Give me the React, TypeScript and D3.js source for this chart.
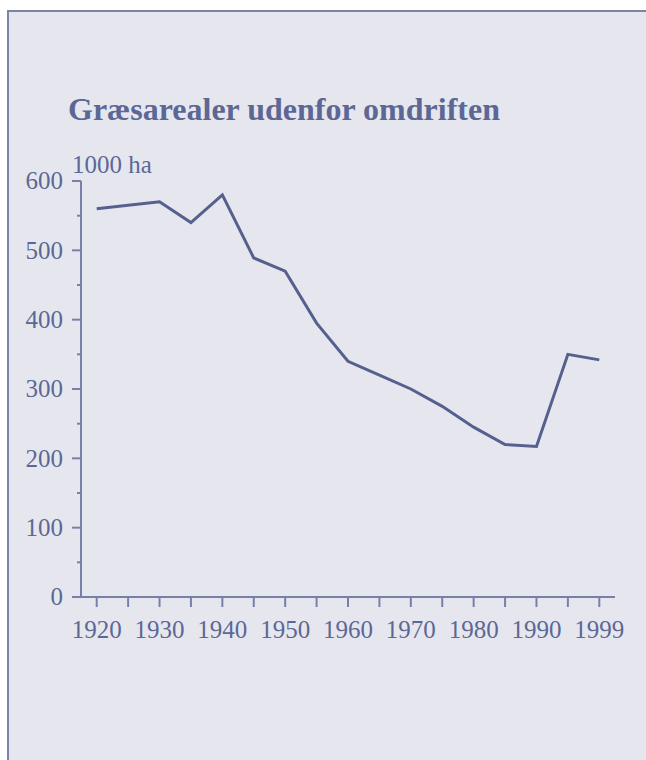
import * as d3 from "d3";
import React, { useEffect, useRef } from "react";

const years = [
  "1920", "1925", "1930", "1935", "1940", "1945", "1950", "1955", "1960",
  "1965", "1970", "1975", "1980", "1985", "1990", "1995", "1999",
];
const area = [
  560, 565, 570, 540, 580, 489, 470, 395, 340, 320, 300, 275, 245, 220, 217,
  350, 342,
];
const labelledYears = ["1920", "1930", "1940", "1950", "1960", "1970", "1980", "1990", "1999"];
const yTicks = [0, 100, 200, 300, 400, 500, 600];
const yMinorTicks = [50, 150, 250, 350, 450, 550];

const title = "Græsarealer udenfor omdriften";
const unit = "1000 ha";

const ink = "#5d6795";
const axisInk = "#7880a8";

const App: React.FC = () => {
  const ref = useRef<SVGSVGElement>(null);

  useEffect(() => {
    if (!ref.current) return;
    const svg = d3.select(ref.current);
    svg.selectAll("*").remove();

    // panel
    svg
      .append("rect")
      .attr("x", 8)
      .attr("y", 11)
      .attr("width", 700)
      .attr("height", 800)
      .attr("fill", "#e6e7ee")
      .attr("stroke", "#7b83a9")
      .attr("stroke-width", 2);

    const x = d3.scalePoint<string>().domain(years).range([81, 615]).padding(0.5);
    const y = d3.scaleLinear().domain([0, 600]).range([597, 181]);

    svg
      .append("text")
      .attr("x", 68)
      .attr("y", 120)
      .attr("fill", ink)
      .style("font-family", "'Liberation Serif', serif")
      .style("font-weight", "bold")
      .style("font-size", "32px")
      .text(title);

    svg
      .append("text")
      .attr("x", 72)
      .attr("y", 173)
      .attr("fill", ink)
      .style("font-family", "'Liberation Serif', serif")
      .style("font-size", "25px")
      .text(unit);

    const g = svg.append("g").attr("stroke", axisInk).attr("stroke-width", 2);

    // y axis line
    g.append("line").attr("x1", 81).attr("x2", 81).attr("y1", y(600)).attr("y2", y(0));
    g.selectAll(".ymaj")
      .data(yTicks)
      .enter()
      .append("line")
      .attr("x1", 72)
      .attr("x2", 81)
      .attr("y1", (d) => y(d))
      .attr("y2", (d) => y(d));
    g.selectAll(".ymin")
      .data(yMinorTicks)
      .enter()
      .append("line")
      .attr("x1", 77)
      .attr("x2", 81)
      .attr("y1", (d) => y(d))
      .attr("y2", (d) => y(d));

    // x axis line
    g.append("line").attr("x1", 81).attr("x2", 615).attr("y1", y(0)).attr("y2", y(0));
    g.selectAll(".xt")
      .data(years)
      .enter()
      .append("line")
      .attr("x1", (d) => x(d) || 0)
      .attr("x2", (d) => x(d) || 0)
      .attr("y1", y(0))
      .attr("y2", y(0) + 10);

    svg
      .append("g")
      .selectAll("text")
      .data(yTicks)
      .enter()
      .append("text")
      .attr("x", 63)
      .attr("y", (d) => y(d))
      .attr("dy", "0.33em")
      .attr("text-anchor", "end")
      .attr("fill", ink)
      .style("font-family", "'Liberation Serif', serif")
      .style("font-size", "25px")
      .text((d) => d);

    svg
      .append("g")
      .selectAll("text")
      .data(labelledYears)
      .enter()
      .append("text")
      .attr("x", (d) => x(d) || 0)
      .attr("y", 638)
      .attr("text-anchor", "middle")
      .attr("fill", ink)
      .style("font-family", "'Liberation Serif', serif")
      .style("font-size", "25px")
      .text((d) => d);

    const line = d3
      .line<number>()
      .x((_, i) => x(years[i]) || 0)
      .y((d) => y(d));

    svg
      .append("path")
      .datum(area)
      .attr("d", line)
      .attr("fill", "none")
      .attr("stroke", "#56608f")
      .attr("stroke-width", 3);
  }, []);

  return (
    <svg
      ref={ref}
      width={646}
      height={760}
      style={{ position: "absolute", left: 0, top: 0, display: "block" }}
    />
  );
};

export default App;
